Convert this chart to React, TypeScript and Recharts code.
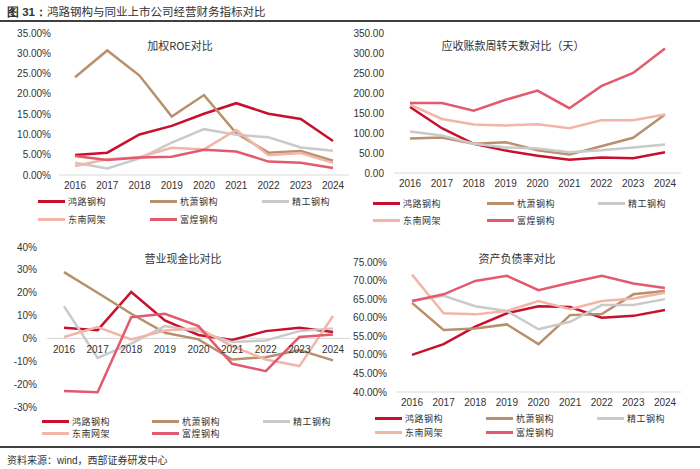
import { LineChart, Line, XAxis, YAxis, ReferenceLine } from "recharts";

const years = ["2016", "2017", "2018", "2019", "2020", "2021", "2022", "2023", "2024"];
const companies = ["鸿路钢构", "杭萧钢构", "精工钢构", "东南网架", "富煌钢构"];
const colors = ["#C8102E", "#B8916C", "#CACACA", "#F3B5A8", "#E25A6E"];

// 加权ROE (%)
const roeHonglu = [4.9, 5.5, 10.0, 12.1, 15.1, 17.7, 15.1, 13.8, 8.4];
const roeHangxiao = [24.1, 30.7, 24.5, 14.4, 19.7, 10.3, 5.5, 5.9, 3.5];
const roeJinggong = [3.0, 1.6, 4.1, 8.0, 11.3, 9.9, 9.3, 6.8, 6.0];
const roeDongnan = [2.2, 3.9, 4.4, 6.7, 6.3, 11.1, 4.9, 5.4, 3.0];
const roeFuhuang = [4.7, 3.7, 4.3, 4.5, 6.2, 5.8, 3.3, 3.0, 1.7];

// 应收账款周转天数 (天)
const arHonglu = [165, 112, 73, 56, 43, 33, 39, 37, 52];
const arHangxiao = [86, 89, 73, 77, 57, 46, 67, 88, 146];
const arJinggong = [104, 94, 73, 64, 61, 52, 57, 64, 71];
const arDongnan = [171, 135, 121, 119, 122, 112, 132, 132, 146];
const arFuhuang = [175, 175, 156, 183, 206, 162, 217, 250, 311];

// 营业现金比 (%)
const cashHonglu = [4.7, 3.6, 20.3, 7.9, 1.5, -0.7, 3.2, 4.7, 2.8];
const cashHangxiao = [29.0, 20.0, 10.8, 2.5, -0.4, -9.2, -8.2, -5.1, -9.6];
const cashJinggong = [14.1, -8.5, -2.3, 5.4, 3.2, -1.6, -0.9, 3.2, 4.4];
const cashDongnan = [0.6, 5.0, -0.4, 3.5, 4.4, -3.4, -9.2, -12.1, 9.8];
const cashFuhuang = [-23.0, -23.5, 9.3, 10.8, 5.4, -11.1, -14.3, 0.6, 1.7];

// 资产负债率 (%)
const debtHonglu = [50.0, 52.9, 57.6, 61.2, 63.1, 62.9, 60.0, 60.5, 62.1];
const debtHangxiao = [64.0, 56.7, 57.1, 58.2, 52.9, 60.7, 61.0, 66.3, 67.2];
const debtJinggong = [64.5, 65.9, 63.1, 61.8, 56.9, 58.9, 63.4, 63.4, 65.0];
const debtDongnan = [71.6, 61.2, 60.9, 61.8, 64.5, 62.3, 64.5, 65.2, 66.7];
const debtFuhuang = [64.5, 66.3, 69.9, 71.3, 67.4, 69.4, 71.3, 69.2, 68.0];

const roeTicks = [0, 5, 10, 15, 20, 25, 30, 35];
const arTicks = [0, 50, 100, 150, 200, 250, 300, 350];
const cashTicks = [-30, -20, -10, 0, 10, 20, 30, 40];
const debtTicks = [40, 45, 50, 55, 60, 65, 70, 75];

const numFont = "'Liberation Sans', Arial, sans-serif";
const cjkFont = "'Noto Sans CJK SC', sans-serif";

const buildRows = (series: number[][]) =>
  years.map((year, i) => {
    const row: any = { year };
    series.forEach((s, k) => (row["s" + k] = s[i]));
    return row;
  });

type PanelProps = {
  left: number;
  top: number;
  title: string;
  titleX: number;
  titleY: number;
  series: number[][];
  ticks: number[];
  fmt: (v: number) => string;
  margin: { top: number; right: number; left: number; bottom: number };
  yWidth: number;
  yGap: number;
  plotH: number;
  xPad: number;
  crossZero?: boolean;
  legendY: [number, number];
  legendX: [number, number, number];
};

const Panel = (p: PanelProps) => {
  const data = buildRows(p.series);
  const yMin = p.ticks[0];
  const yMax = p.ticks[p.ticks.length - 1];
  // category labels sit on the zero line when the axis crosses it
  const shift = p.crossZero ? (p.plotH * (0 - yMin)) / (yMax - yMin) : 0;

  const XTick = (t: any) => (
    <text
      x={t.x}
      y={t.y - shift}
      dy="0.71em"
      textAnchor="middle"
      fontSize={10}
      fontFamily={numFont}
      fill="#333"
    >
      {t.payload.value}
    </text>
  );

  return (
    <div style={{ position: "absolute", left: p.left, top: p.top, width: 350, height: 210 }}>
      <LineChart width={350} height={210} data={data} margin={p.margin}>
        <XAxis
          dataKey="year"
          axisLine={p.crossZero ? false : { stroke: "#D9D9D9" }}
          tickLine={false}
          tickSize={0}
          tickMargin={7}
          height={20}
          interval={0}
          padding={{ left: p.xPad, right: p.xPad }}
          tick={<XTick />}
        />
        <YAxis
          width={p.yWidth}
          domain={[yMin, yMax]}
          ticks={p.ticks}
          axisLine={false}
          tickLine={false}
          tickSize={0}
          tickMargin={p.yGap}
          tickFormatter={p.fmt}
          tick={{ fontSize: 10, fontFamily: numFont, fill: "#333" }}
        />
        {p.crossZero && <ReferenceLine y={0} stroke="#D9D9D9" />}
        {p.series.map((_, k) => (
          <Line
            key={k}
            dataKey={"s" + k}
            stroke={colors[k]}
            strokeWidth={2.5}
            dot={false}
            type="linear"
            isAnimationActive={false}
          />
        ))}
      </LineChart>
      <div
        style={{
          position: "absolute",
          left: p.titleX,
          top: p.titleY,
          transform: "translate(-50%, -50%)",
          fontSize: 11,
          fontFamily: cjkFont,
          color: "#333",
          whiteSpace: "nowrap",
        }}
      >
        {p.title}
      </div>
      {companies.map((name, k) => (
        <div
          key={name}
          style={{
            position: "absolute",
            left: p.legendX[k % 3],
            top: p.legendY[Math.floor(k / 3)] - 7,
            height: 14,
            display: "flex",
            alignItems: "center",
            whiteSpace: "nowrap",
          }}
        >
          <span style={{ display: "inline-block", width: 27, height: 3, background: colors[k] }} />
          <span
            style={{
              marginLeft: 3,
              fontSize: 9,
              letterSpacing: 0.5,
              fontFamily: cjkFont,
              color: "#333",
            }}
          >
            {name}
          </span>
        </div>
      ))}
    </div>
  );
};

export default function App() {
  return (
    <div
      style={{
        position: "absolute",
        left: 0,
        top: 0,
        width: 700,
        height: 469,
        background: "#fff",
        overflow: "hidden",
      }}
    >
      <div
        style={{
          position: "absolute",
          left: 7,
          top: 3,
          fontSize: 11.5,
          fontFamily: cjkFont,
          color: "#333",
          whiteSpace: "nowrap",
        }}
      >
        <b style={{ fontFamily: numFont }}>图 31：</b>鸿路钢构与同业上市公司经营财务指标对比
      </div>
      <div style={{ position: "absolute", left: 0, top: 20, width: 700, height: 2, background: "#404040" }} />

      <Panel
        left={0}
        top={20}
        title="加权ROE对比"
        titleX={180}
        titleY={25}
        series={[roeHonglu, roeHangxiao, roeJinggong, roeDongnan, roeFuhuang]}
        ticks={roeTicks}
        fmt={(v) => v.toFixed(2) + "%"}
        margin={{ top: 13, right: 1, left: 0, bottom: 35 }}
        yWidth={59}
        yGap={8}
        plotH={142}
        xPad={16}
        legendY={[181, 199]}
        legendX={[38, 150, 262]}
      />
      <Panel
        left={350}
        top={20}
        title="应收账款周转天数对比（天）"
        titleX={163}
        titleY={25}
        series={[arHonglu, arHangxiao, arJinggong, arDongnan, arFuhuang]}
        ticks={arTicks}
        fmt={(v) => v.toFixed(2)}
        margin={{ top: 13, right: 19, left: 0, bottom: 37 }}
        yWidth={44}
        yGap={10}
        plotH={140}
        xPad={16}
        legendY={[183, 200]}
        legendX={[23, 137, 248]}
      />
      <Panel
        left={0}
        top={230}
        title="营业现金比对比"
        titleX={183}
        titleY={28}
        series={[cashHonglu, cashHangxiao, cashJinggong, cashDongnan, cashFuhuang]}
        ticks={cashTicks}
        fmt={(v) => v + "%"}
        margin={{ top: 17, right: 0, left: 0, bottom: 13 }}
        yWidth={47}
        yGap={10}
        plotH={160}
        xPad={17}
        crossZero
        legendY={[191, 203]}
        legendX={[42, 152, 263]}
      />
      <Panel
        left={350}
        top={230}
        title="资产负债率对比"
        titleX={167}
        titleY={28}
        series={[debtHonglu, debtHangxiao, debtJinggong, debtDongnan, debtFuhuang]}
        ticks={debtTicks}
        fmt={(v) => v.toFixed(2) + "%"}
        margin={{ top: 32, right: 19, left: 0, bottom: 28 }}
        yWidth={46}
        yGap={9}
        plotH={130}
        xPad={16}
        legendY={[188, 202]}
        legendX={[25, 136, 247]}
      />

      <div style={{ position: "absolute", left: 0, top: 446, width: 700, height: 2, background: "#404040" }} />
      <div
        style={{
          position: "absolute",
          left: 7,
          top: 452,
          fontSize: 10,
          fontFamily: cjkFont,
          color: "#333",
          whiteSpace: "nowrap",
        }}
      >
        资料来源：<span style={{ fontFamily: numFont }}>wind</span>，西部证券研发中心
      </div>
    </div>
  );
}
